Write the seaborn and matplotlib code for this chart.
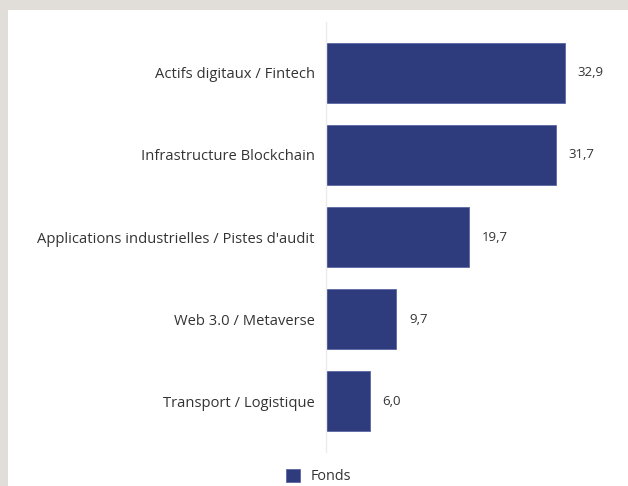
import matplotlib
matplotlib.use("Agg")
import matplotlib.pyplot as plt
import seaborn as sns
import pandas as pd
from matplotlib.patches import Rectangle, Patch

categories = ["Actifs digitaux / Fintech", "Infrastructure Blockchain",
              "Applications industrielles / Pistes d'audit",
              "Web 3.0 / Metaverse", "Transport / Logistique"]
values = [32.9, 31.7, 19.7, 9.7, 6.0]
series_name = "Fonds"

sns.set_theme(style="white")
plt.rcParams['font.family'] = ['Open Sans', 'DejaVu Sans']

BAR = "#2e3c7e"
fig = plt.figure(figsize=(6.28, 4.86), dpi=100)
fig.patch.set_facecolor("#e1ddd9")
fig.patches.append(Rectangle((8/628, 0), 1, 1 - 10/486, transform=fig.transFigure,
                             facecolor="white", edgecolor="none", zorder=-5))

ax = fig.add_axes([326/628, 34/486, 1 - 326/628 - 0.03, (452-22)/486])
ax.set_zorder(2)
ax.set_facecolor("none")
df = pd.DataFrame({"cat": categories, "val": values})
sns.barplot(data=df, x="val", y="cat", orient="h", color=BAR, saturation=1,
            width=0.73, edgecolor="#5b67a3", linewidth=0.6, ax=ax)
ax.set_xlim(0, 39)
ax.set_ylim(4.62, -0.62)
ax.set_xlabel("")
ax.set_ylabel("")
ax.set_xticks([])
for s in ["top", "right", "bottom"]:
    ax.spines[s].set_visible(False)
ax.spines["left"].set_color("#ebebeb")
ax.spines["left"].set_linewidth(1)
ax.tick_params(axis="y", length=0, pad=8, labelsize=10.6, labelcolor="#333333")
ax.bar_label(ax.containers[0], labels=[f"{v:.1f}".replace(".", ",") for v in values],
             padding=9, fontsize=9.5, color="#333333")

fig.legend(handles=[Patch(facecolor=BAR, edgecolor="#5b67a3", linewidth=0.6, label=series_name)],
           loc="center", bbox_to_anchor=(0.507, 0.019), frameon=False,
           fontsize=10.4, handlelength=1.0, handleheight=1.0, handletextpad=0.7,
           labelcolor="#333333", borderpad=0.1)

fig.savefig("out.png", dpi=100)
